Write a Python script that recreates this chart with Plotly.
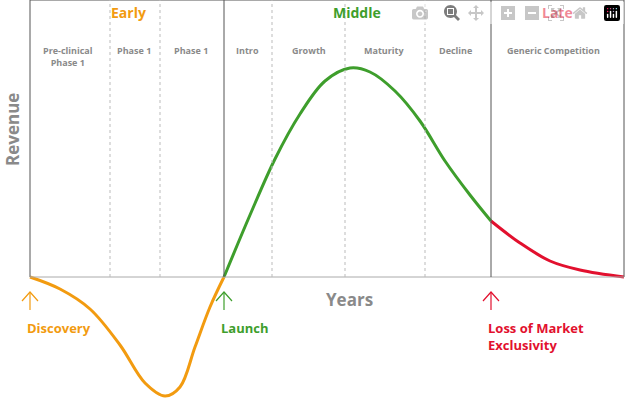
import plotly.graph_objects as go

# curve points (x = time, y = revenue relative to baseline)
early_x = [30, 60, 90, 120, 145, 165, 180, 195, 210, 224]
early_y = [0, -12, -32, -68, -106, -119, -110, -70, -30, 0]
mid_x = [224, 250, 275, 300, 325, 350, 370, 395, 420, 445, 470, 491]
mid_y = [0, 62, 118, 163, 196, 209, 205, 186, 156, 116, 82, 56]
late_x = [491, 520, 550, 580, 624]
late_y = [56, 34, 16, 7, 0]

phases = ["Early", "Middle", "Late"]
phase_x = [128, 357, 557]
stages = ["Pre-clinical<br>Phase 1", "Phase 1", "Phase 1", "Intro", "Growth",
          "Maturity", "Decline", "Generic Competition"]
stage_x = [68, 134, 191, 247, 309, 384, 455, 553]
solid_x = [224, 491]
dotted_x = [110, 160, 272, 345, 425]
events = ["Discovery", "Launch", "Loss of Market<br>Exclusivity"]
event_x = [30, 224, 491]

ORANGE, GREEN, RED, GRAY = "#F29B10", "#3E9E2C", "#E2102E", "#8a8a8a"
colors = [ORANGE, GREEN, RED]
FONT = "Open Sans"

fig = go.Figure()
for xs, ys, c in [(early_x, early_y, ORANGE), (mid_x, mid_y, GREEN), (late_x, late_y, RED)]:
    fig.add_trace(go.Scatter(x=xs, y=ys, mode="lines", line=dict(color=c, width=3, shape="spline"),
                             showlegend=False, hoverinfo="skip"))

shapes = [
    dict(type="line", x0=30, x1=30, y0=0, y1=277, line=dict(color="#555", width=1)),
    dict(type="line", x0=30, x1=624, y0=277, y1=277, line=dict(color="#555", width=1)),
    dict(type="line", x0=624, x1=624, y0=0, y1=277, line=dict(color="#555", width=1)),
    dict(type="line", x0=30, x1=624, y0=0, y1=0, line=dict(color="#aaa", width=1)),
]
for x in solid_x:
    shapes.append(dict(type="line", x0=x, x1=x, y0=0, y1=277, line=dict(color="#555", width=1)))
for x in dotted_x:
    shapes.append(dict(type="line", x0=x, x1=x, y0=0, y1=277, line=dict(color="#bbb", width=1, dash="dot")))
for x, c in zip(event_x, colors):
    shapes.append(dict(type="line", x0=x, x1=x, y0=-15, y1=-33, line=dict(color=c, width=1.2)))
    shapes.append(dict(type="path", path=f"M {x-8} -24 L {x} -15 L {x+8} -24",
                       line=dict(color=c, width=1.2)))

ann = []
for t, x, c in zip(phases, phase_x, colors):
    ann.append(dict(x=x, y=265, text=f"<b>{t}</b>", showarrow=False, font=dict(color=c, size=14, family=FONT)))
for t, x in zip(stages, stage_x):
    ann.append(dict(x=x, y=235, text=f"<b>{t}</b>", showarrow=False, yanchor="top",
                    font=dict(color=GRAY, size=9, family=FONT)))
for t, x, c in zip(events, event_x, colors):
    ann.append(dict(x=x - 5, y=-40, text=f"<b>{t}</b>", showarrow=False, xanchor="left", yanchor="top",
                    align="left", font=dict(color=c, size=13, family=FONT)))
ann.append(dict(x=12, y=147, text="<b>Revenue</b>", textangle=-90, showarrow=False,
                font=dict(color=GRAY, size=17, family=FONT)))
ann.append(dict(x=349, y=-22, text="<b>Years</b>", showarrow=False,
                font=dict(color=GRAY, size=17, family=FONT)))

fig.update_layout(
    width=626, height=400, margin=dict(l=0, r=0, t=0, b=0),
    plot_bgcolor="white", paper_bgcolor="white",
    xaxis=dict(range=[0, 626], visible=False),
    yaxis=dict(range=[-123, 277], visible=False),
    shapes=shapes, annotations=ann,
)
fig.write_html("out.html", post_script="document.body.style.margin='0';")
